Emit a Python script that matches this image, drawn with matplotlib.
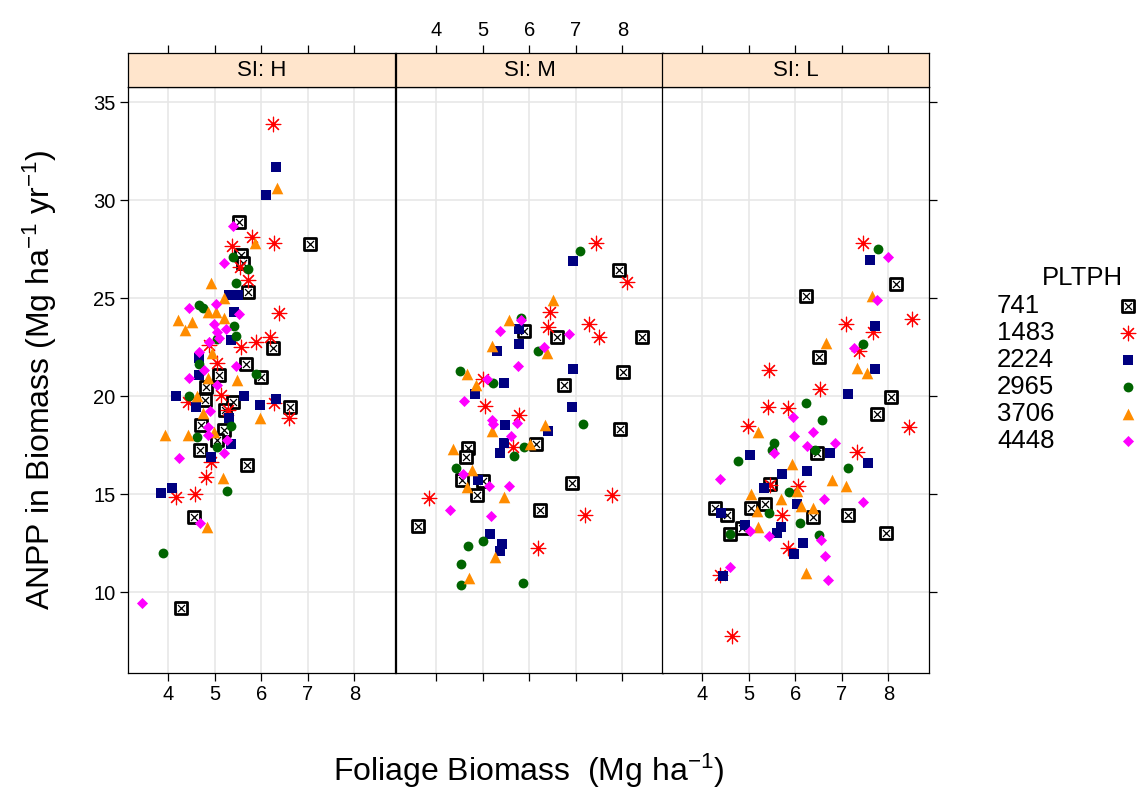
import matplotlib
matplotlib.use('Agg')
import matplotlib.pyplot as plt

plt.rcParams['font.family'] = ['Liberation Sans', 'DejaVu Sans']
plt.rcParams['mathtext.fontset'] = 'custom'
plt.rcParams['mathtext.rm'] = 'Liberation Sans'
plt.rcParams['mathtext.it'] = 'Liberation Sans:italic'
plt.rcParams['mathtext.bf'] = 'Liberation Sans:bold'

# panel / group names
sites  = ['H', 'M', 'L']
groups = ['741', '1483', '2224', '2965', '3706', '4448']
xticks = [4, 5, 6, 7, 8]
yticks = [10, 15, 20, 25, 30, 35]

# (foliage biomass, ANPP), site index H
H_741  = [(5.53,28.9),(7.05,27.75),(5.56,27.2),(5.60,26.8),(5.71,25.3),(6.25,22.43),(5.67,21.63),
          (6.00,20.98),(5.10,21.07),(4.81,20.48),(4.80,19.8),(5.39,19.71),(5.23,19.3),(6.62,19.46),
          (4.70,18.52),(5.21,18.27),(5.06,17.76),(4.69,17.24),(5.69,16.48),(4.55,13.84),(4.27,9.17)]
H_1483 = [(6.25,33.9),(5.80,28.13),(6.27,27.8),(5.37,27.65),(5.55,26.6),(5.71,25.9),(6.37,24.22),
          (6.18,23.03),(5.89,22.77),(5.56,22.48),(4.88,22.6),(5.05,21.67),(4.42,19.71),(5.13,20.05),
          (5.28,19.29),(6.28,19.63),(6.59,18.86),(4.92,16.65),(4.81,15.85),(4.16,14.86),(4.57,15.0)]
H_2224 = [(6.31,31.7),(6.10,30.25),(5.30,25.15),(5.50,25.15),(5.42,24.3),(5.35,22.86),(4.67,21.92),
          (4.67,21.07),(4.16,20.0),(4.59,19.45),(5.64,20.0),(5.98,19.54),(6.32,19.83),(5.31,18.86),
          (5.35,17.55),(4.92,16.9),(3.84,15.04),(4.08,15.29)]
H_2965 = [(5.39,27.08),(5.72,26.5),(5.46,25.78),(4.67,24.64),(4.74,24.5),(5.42,23.6),(5.46,23.06),
          (5.05,22.9),(5.89,21.12),(4.67,21.63),(4.45,20.0),(5.36,18.47),(4.63,17.93),(5.06,17.4),
          (5.26,15.17),(3.90,12.0)]
H_3706 = [(6.33,30.6),(5.87,27.8),(4.93,25.78),(5.21,25.0),(4.85,24.3),(5.03,24.3),(4.22,23.88),
          (4.52,23.8),(4.36,23.37),(5.21,23.96),(4.95,22.18),(4.85,20.9),(5.48,20.82),(4.63,20.0),
          (5.98,18.86),(4.76,19.12),(3.93,18.0),(4.43,18.0),(4.99,18.18),(5.17,15.8),(4.83,13.3)]
H_4448 = [(5.39,28.67),(5.19,26.77),(4.45,24.5),(5.02,24.7),(5.53,24.18),(4.98,23.7),(5.24,23.4),
          (5.06,23.28),(5.10,22.94),(4.88,22.77),(4.67,22.26),(5.46,21.53),(4.78,21.33),(4.45,20.9),
          (5.06,20.56),(4.91,19.25),(4.85,18.4),(4.85,18.0),(5.26,17.76),(5.21,17.1),(4.24,16.85),
          (4.69,13.5),(3.45,9.42)]

# site index M
M_741  = [(7.93,26.43),(5.88,23.33),(6.60,23.0),(8.41,23.03),(6.74,20.56),(8.02,21.21),(7.94,18.3),
          (6.15,17.55),(4.68,17.33),(4.65,16.87),(4.55,15.71),(5.00,15.68),(4.88,14.95),(6.92,15.54),
          (6.24,14.18),(3.62,13.37)]
M_1483 = [(7.43,27.82),(8.09,25.83),(6.45,24.3),(6.40,23.54),(7.28,23.67),(7.49,23.0),(5.00,20.85),
          (5.05,19.5),(5.79,19.03),(5.66,17.38),(7.78,14.95),(3.84,14.78),(7.20,13.93),(6.18,12.23)]
M_2224 = [(6.94,26.87),(5.78,23.4),(5.31,22.31),(5.77,22.65),(6.93,21.38),(5.45,20.65),(4.83,20.1),
          (6.92,19.44),(5.48,18.52),(6.40,18.23),(5.45,17.62),(5.38,17.08),(4.91,15.71),(5.16,12.96),
          (5.41,12.45),(5.38,12.11)]
M_2965 = [(7.08,27.4),(5.82,24.0),(6.19,22.3),(4.52,21.29),(5.23,20.65),(7.15,18.6),(5.68,16.94),
          (5.88,17.38),(4.42,16.31),(5.00,12.62),(4.68,12.36),(4.53,11.41),(4.53,10.36),(5.86,10.47)]
M_3706 = [(6.52,24.9),(5.57,23.88),(5.21,22.55),(6.38,22.18),(4.66,21.12),(4.86,20.56),(5.21,18.23),
          (6.34,18.52),(6.01,17.55),(4.37,17.28),(4.78,16.22),(4.66,15.34),(5.46,14.83),(5.26,11.77),
          (4.70,10.7)]
M_4448 = [(5.82,23.9),(5.38,23.33),(6.86,23.15),(6.31,22.52),(5.76,21.55),(5.09,20.85),(4.59,19.75),
          (5.20,18.78),(5.23,18.6),(5.74,18.64),(5.61,17.97),(4.57,16.02),(5.13,15.41),(5.57,15.41),
          (4.29,14.18),(5.18,13.88)]

# site index L
L_741  = [(8.16,25.7),(6.22,25.12),(6.50,21.97),(8.05,19.93),(7.75,19.1),(6.47,17.1),(5.46,15.51),
          (5.36,14.49),(4.28,14.27),(4.53,13.93),(5.05,14.27),(6.38,13.81),(7.14,13.93),(7.95,13.03),
          (4.85,13.25),(4.60,12.96)]
L_1483 = [(7.45,27.79),(8.51,23.91),(7.09,23.67),(7.66,23.28),(7.36,22.3),(5.44,21.33),(6.54,20.34),
          (5.41,19.46),(5.85,19.37),(8.44,18.43),(4.98,18.47),(7.33,17.16),(5.46,15.45),(6.06,15.41),
          (5.72,13.93),(5.85,12.23),(4.39,10.87),(4.64,7.76)]
L_2224 = [(7.60,26.94),(7.71,23.57),(7.71,21.38),(7.13,20.1),(6.74,17.1),(7.57,16.6),(5.03,16.99),
          (5.71,16.02),(6.26,16.19),(5.33,15.29),(4.41,14.05),(6.03,14.49),(5.69,13.33),(4.92,13.42),
          (5.60,13.03),(6.17,12.52),(5.98,11.94),(4.45,10.82)]
L_2965 = [(7.78,27.48),(7.46,22.65),(6.24,19.63),(6.58,18.8),(5.55,17.62),(5.49,17.24),(6.43,17.24),
          (4.78,16.68),(7.13,16.31),(5.86,15.12),(5.43,14.05),(6.10,13.54),(4.60,12.96),(6.50,12.91)]
L_3706 = [(7.65,25.1),(6.67,22.72),(7.33,21.41),(7.53,21.16),(5.19,18.18),(5.94,16.53),(6.79,15.71),
          (7.09,15.41),(5.05,14.98),(6.03,15.17),(5.69,14.74),(5.17,14.13),(6.13,14.39),(6.38,14.27),
          (5.19,13.30),(6.22,10.95)]
L_4448 = [(7.98,27.1),(7.75,24.9),(7.25,22.46),(5.96,18.94),(6.38,18.18),(5.97,17.96),(6.26,17.45),
          (6.86,17.62),(5.55,17.1),(4.38,15.75),(6.61,14.74),(7.46,14.61),(5.03,13.13),(5.43,12.86),
          (6.56,12.65),(6.64,11.84),(4.59,11.29),(6.70,10.61)]

panels = {
    'H': [H_741, H_1483, H_2224, H_2965, H_3706, H_4448],
    'M': [M_741, M_1483, M_2224, M_2965, M_3706, M_4448],
    'L': [L_741, L_1483, L_2224, L_2965, L_3706, L_4448],
}

# lattice-like symbols
colors  = ['black', 'red', '#000080', '#006400', '#FF8C00', 'magenta']
markers = ['s', (8, 2, 0), 's', 'o', '^', 'D']
sizes   = [72, 110, 58, 50, 70, 32]


def draw_group(ax, xs, ys, g, c, m, sz):
    if g == '741':
        ax.scatter(xs, ys, marker='s', s=sz, facecolors='white', edgecolors=c,
                   linewidths=2.0, zorder=3)
        ax.scatter(xs, ys, marker='x', s=sz * 0.35, c=c, linewidths=0.9, zorder=3)
    elif g == '1483':
        ax.scatter(xs, ys, marker=m, s=sz, c=c, linewidths=0.85, zorder=3)
    else:
        ax.scatter(xs, ys, marker=m, s=sz, c=c, linewidths=0, zorder=3)


W, H = 1139, 789
fig = plt.figure(figsize=(W/100, H/100), dpi=100)

left_px  = [128, 396, 662]
pan_w    = 267
top_px, bot_px = 87, 673
strip_h  = 34
xlim = (3.14, 8.87)
ylim = (5.87, 35.77)

for k, s in enumerate(sites):
    l = left_px[k] / W
    b = 1 - bot_px / H
    ax = fig.add_axes([l, b, pan_w / W, (bot_px - top_px) / H])
    ax.set_xlim(xlim)
    ax.set_ylim(ylim)
    ax.set_xticks(xticks)
    ax.set_yticks(yticks)
    ax.grid(True, color='#e6e6e6', lw=1.1)
    ax.set_axisbelow(True)
    for sp in ax.spines.values():
        sp.set_linewidth(0.9)
    ax.tick_params(direction='out', length=6, width=0.9, labelsize=14.5, pad=3)
    ax.tick_params(axis='x', labelbottom=(k != 1))
    ax.tick_params(axis='y', left=(k == 0), labelleft=(k == 0),
                   right=(k == 2), labelright=False)

    for g, pts, c, m, sz in zip(groups, panels[s], colors, markers, sizes):
        xs = [p[0] for p in pts]
        ys = [p[1] for p in pts]
        draw_group(ax, xs, ys, g, c, m, sz)

    # strip
    sax = fig.add_axes([l, 1 - top_px / H, pan_w / W, strip_h / H])
    sax.set_facecolor('#FFE5CC')
    sax.set_xlim(xlim)
    sax.set_ylim(0, 1)
    sax.set_yticks([])
    sax.set_xticks(xticks)
    sax.xaxis.tick_top()
    sax.tick_params(axis='x', direction='out', length=6, width=0.9, labelsize=14.5, pad=3,
                    labeltop=(k == 1), bottom=False, labelbottom=False)
    for sp in sax.spines.values():
        sp.set_linewidth(0.9)
    sax.text(0.5, 0.5, 'SI: ' + s, transform=sax.transAxes, ha='center', va='center',
             fontsize=16)

fig.text(40 / W, 1 - 380 / H, r'ANPP in Biomass (Mg ha$^{-1}$ yr$^{-1}$)', rotation=90,
         ha='center', va='center', fontsize=23)
fig.text(529 / W, 1 - 771 / H, r'Foliage Biomass  (Mg ha$^{-1}$)', ha='center', va='center',
         fontsize=23)

# key: labels on the left, symbols on the right (pixel coordinates)
lax = fig.add_axes([0, 0, 1, 1], facecolor='none')
lax.set_xlim(0, W)
lax.set_ylim(H, 0)
lax.axis('off')
lax.text(1082, 278, 'PLTPH', ha='center', va='center', fontsize=18.5)
for i, (g, c, m, sz) in enumerate(zip(groups, colors, markers, sizes)):
    yy = 306 + 27 * i
    lax.text(997, yy, g, ha='left', va='center', fontsize=18.5)
    draw_group(lax, [1128], [yy], g, c, m, sz)

plt.savefig('out.png', dpi=100)
